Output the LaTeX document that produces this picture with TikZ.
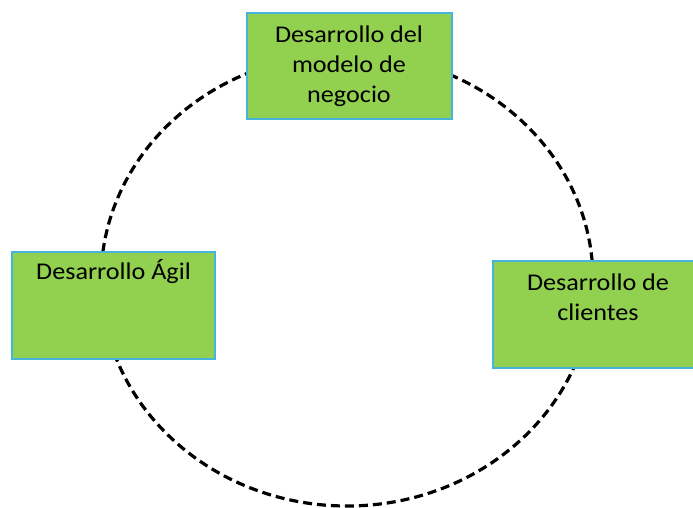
\documentclass[tikz,border=0pt]{standalone}
\usepackage{fontspec}
\setmainfont{Carlito}[FakeStretch=1.09]
\definecolor{boxgreen}{HTML}{92D050}
\definecolor{boxedge}{HTML}{46B4DC}
\tikzset{
  greenbox/.style={draw=boxedge, line width=1.3pt, fill=boxgreen, rectangle, inner sep=0pt},
  boxtext/.style={anchor=base, align=center, inner sep=0pt, font=\fontsize{24}{30}\selectfont},
  cycleline/.style={line width=3.2pt, dash pattern=on 9pt off 5pt}
}
\begin{document}
\begin{tikzpicture}[x=1pt, y=-1pt]
\useasboundingbox (0,0) rectangle (693,507);
\clip (0,0) rectangle (693,507);
\draw[cycleline] (347,280) ellipse [x radius=246, y radius=226];
\node[greenbox, minimum width=205pt, minimum height=106pt] (model) at (349.5,66) {};
\node[greenbox, minimum width=203pt, minimum height=107pt] (agil) at (113.5,305.5) {};
\node[greenbox, minimum width=210pt, minimum height=107pt] (clientes) at (598,314.5) {};
\node[boxtext] (tmodel) at (349,102.5) {Desarrollo del\\modelo de\\negocio};
\node[boxtext] (tagil) at (113.5,279.5) {Desarrollo Ágil};
\node[boxtext] (tclientes) at (598,320.5) {Desarrollo de\\clientes};
\end{tikzpicture}
\end{document}
